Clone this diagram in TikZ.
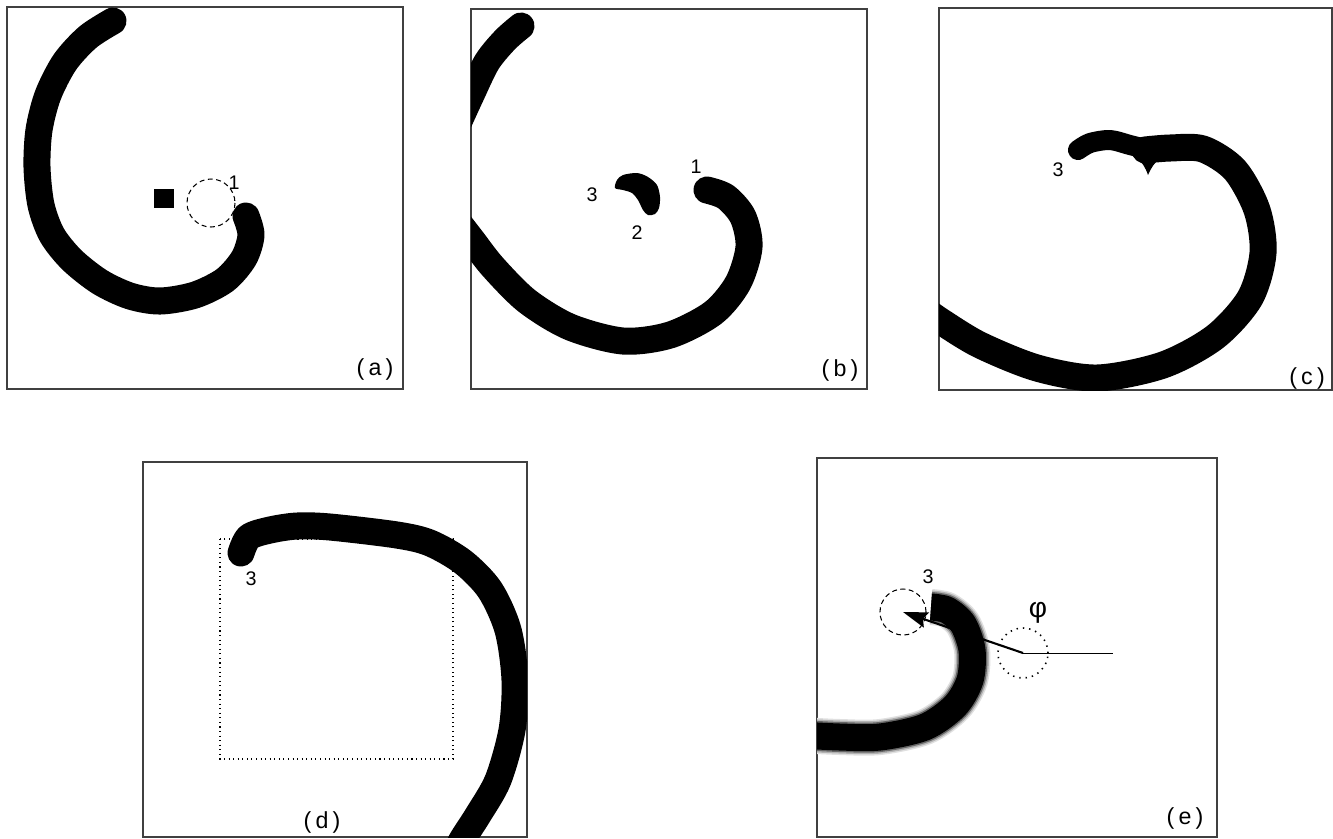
\documentclass[tikz,border=0pt]{standalone}
\usepackage{fontspec}
\setmainfont{Liberation Sans}
\usetikzlibrary{arrows.meta}

\begin{document}
\begin{tikzpicture}[x = 0.01cm, y = -0.01cm,
        wave/.style = {line width = 0.27cm, line cap = round, line join = round},
        num/.style = {inner sep = 0pt, font = \fontsize{5.6}{6}\selectfont},
        tag/.style = {inner sep = 0pt, font = \fontsize{6.6}{7}\selectfont}]
        \useasboundingbox (0, 0) rectangle (1333, 838);
        \foreach \n/\xa/\ya/\xb/\yb/\tx/\ty in {a/7/7/403/389/375/369, b/471/9/867/389/840/370, c/939/8/1332/390/1307/378, d/143/462/527/837/322/822, e/817/458/1217/837/1185/818}{
            \draw[black!75, line width = 0.4pt] (\xa, \ya) rectangle (\xb, \yb);
            \node[tag] (tag-\n) at (\tx, \ty) {(\kern1.2pt\n\kern1.2pt)};
        }
        % (a)
        \draw[wave] plot[smooth] coordinates {(113, 21) (88, 37) (65, 62) (48, 95) (39, 130) (37, 167) (41, 205) (52, 235) (72, 260) (100, 282) (130, 296) (160, 301) (195, 295) (225, 280) (244, 258) (251, 235) (246, 216)};
        \fill (154, 189) rectangle (174, 208);
        \draw[dash pattern = on 1.4pt off 1pt, line width = 0.3pt] (211, 203) circle (24);
        \node[num] (a1) at (234, 183) {1};
        % (b)
        \begin{scope}
            \clip (471, 9) rectangle (867, 389);
            \draw[wave] plot[smooth] coordinates {(521, 26) (505, 40) (487, 62) (471, 95) (455, 130)};
            \draw[wave] plot[smooth] coordinates {(455, 218) (472, 240) (493, 267) (527, 301) (570, 327) (623, 341) (670, 335) (713, 313) (738, 283) (749, 247) (743, 217) (726, 197) (707, 190)};
            \fill plot[smooth cycle, tension = 0.5] coordinates {(617, 180) (623, 175) (637, 173) (648, 177) (657, 185) (660, 197) (659, 208) (655, 214) (648, 215) (643, 210) (638, 200) (632, 193) (623, 190) (615, 188)};
        \end{scope}
        \node[num] (b1) at (696, 167) {1};
        \node[num] (b3) at (592, 195) {3};
        \node[num] (b2) at (637, 233) {2};
        % (c)
        \begin{scope}
            \clip (939, 8) rectangle (1332, 390);
            \draw[wave, line width = 0.2cm] plot[smooth] coordinates {(1078, 150) (1090, 143) (1110, 140) (1130, 145) (1150, 150)};
            \draw[wave] plot[smooth] coordinates {(1145, 150) (1170, 148) (1203, 149) (1235, 170) (1257, 210) (1263, 253) (1250, 298) (1215, 337) (1163, 365) (1097, 378) (1037, 368) (980, 345) (942, 322) (925, 310)};
            \fill (1112, 148) .. controls (1133, 151) and (1143, 160) .. (1148, 175) .. controls (1154, 161) and (1162, 153) .. (1184, 150) -- (1150, 142) -- cycle;
        \end{scope}
        \node[num] (c3) at (1058, 170) {3};
        % (d)
        \begin{scope}
            \clip (143, 462) rectangle (527, 837);
            \draw[wave] plot[smooth] coordinates {(241, 553) (249, 537) (270, 530) (297, 526) (330, 527) (397, 535) (430, 543) (463, 562) (490, 590) (508, 630) (515, 680) (512, 730) (498, 780) (478, 815) (462, 840) (455, 855)};
        \end{scope}
        \draw[densely dotted, line width = 0.3pt] (220, 539) rectangle (453, 759);
        \node[num] (d3) at (251, 579) {3};
        % (e)
        \begin{scope}
            \clip (817, 458) rectangle (1217, 837);
            \foreach \w/\c in {0.36cm/black!12, 0.33cm/black!30, 0.3cm/black!60, 0.27cm/black}{
                \draw[\c, line width = \w] plot[smooth] coordinates {(931, 607) (947, 610) (963, 624) (972, 650) (970, 680) (955, 706) (925, 727) (880, 737) (840, 737) (800, 735)};
            }
        \end{scope}
        \node[circle, draw, dash pattern = on 1.4pt off 1pt, line width = 0.3pt, minimum size = 0.46cm, inner sep = 0pt] (tip) at (903, 612) {};
        \node[circle, draw, dash pattern = on 0.4pt off 1.4pt, line width = 0.45pt, minimum size = 0.5cm, inner sep = 0pt] (pivot) at (1023, 653) {};
        \coordinate (axis) at (1113, 653);
        \draw[line width = 0.2pt] (pivot.center) -- (axis);
        \draw[line width = 0.6pt, -{Stealth[length = 7pt, width = 4.5pt, inset = 1pt]}] (pivot.center) -- (tip.center);
        \node[num] (e3) at (928, 577) {3};
        \node[inner sep = 0pt, font = \fontsize{8}{9}\selectfont] (phi) at (1038, 613) {φ};
    \end{tikzpicture}
\end{document}
